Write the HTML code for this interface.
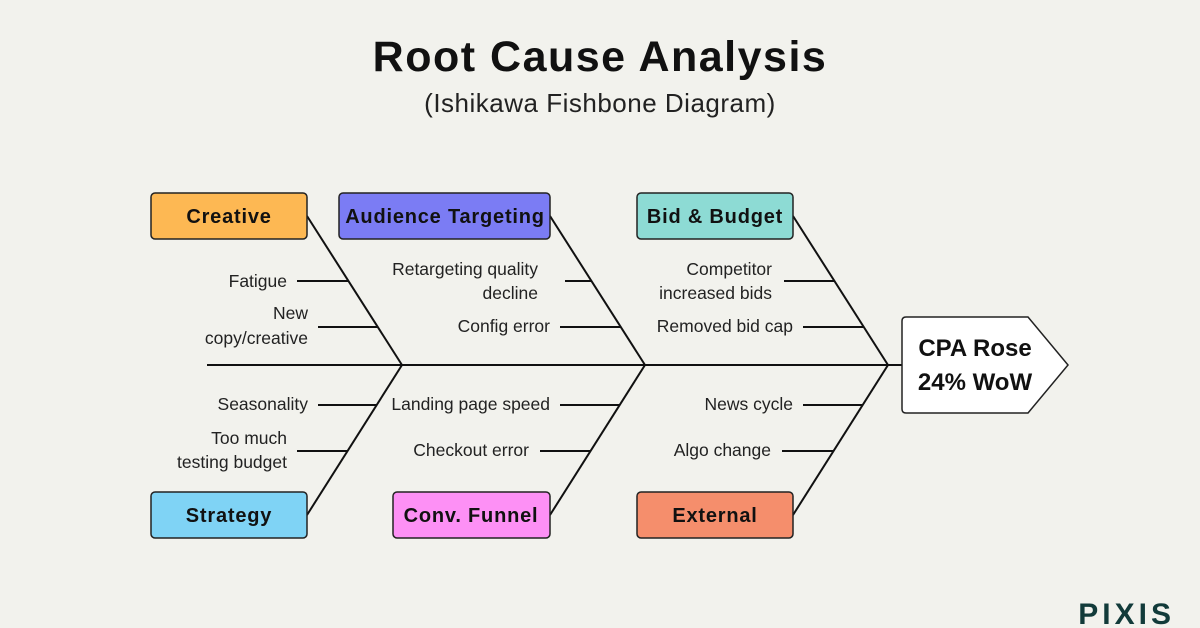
<!DOCTYPE html>
<html><head><meta charset="utf-8"><style>
html,body{margin:0;padding:0;background:#f2f2ed;}
svg{display:block;font-family:"Liberation Sans",sans-serif;}
</style></head><body>
<svg width="1200" height="628" viewBox="0 0 1200 628" xmlns="http://www.w3.org/2000/svg">
<rect width="1200" height="628" fill="#f2f2ed"/>
<text x="600" y="71" text-anchor="middle" font-size="43" font-weight="bold" fill="#111" letter-spacing="1.5">Root Cause Analysis</text>
<text x="600" y="112" text-anchor="middle" font-size="26" fill="#222" letter-spacing="0.5">(Ishikawa Fishbone Diagram)</text>
<g stroke="#111" stroke-width="2" fill="none">
<line x1="207" y1="365" x2="902" y2="365"/>
<line x1="307" y1="216" x2="402" y2="365"/><line x1="307" y1="515" x2="402" y2="365"/>
<line x1="550" y1="216" x2="645" y2="365"/><line x1="550" y1="515" x2="645" y2="365"/>
<line x1="793" y1="216" x2="888" y2="365"/><line x1="793" y1="515" x2="888" y2="365"/>
<line x1="297" y1="281" x2="349" y2="281"/><line x1="318" y1="327" x2="378" y2="327"/>
<line x1="318" y1="405" x2="377" y2="405"/><line x1="297" y1="451" x2="348" y2="451"/>
<line x1="565" y1="281" x2="591" y2="281"/><line x1="560" y1="327" x2="621" y2="327"/>
<line x1="560" y1="405" x2="620" y2="405"/><line x1="540" y1="451" x2="591" y2="451"/>
<line x1="784" y1="281" x2="834" y2="281"/><line x1="803" y1="327" x2="864" y2="327"/>
<line x1="803" y1="405" x2="863" y2="405"/><line x1="782" y1="451" x2="834" y2="451"/>
</g>
<g stroke="#222" stroke-width="1.5">
<rect x="151" y="193" width="156" height="46" rx="4" fill="#fdb853"/>
<rect x="339" y="193" width="211" height="46" rx="4" fill="#7b7cf4"/>
<rect x="637" y="193" width="156" height="46" rx="4" fill="#8ddbd4"/>
<rect x="151" y="492" width="156" height="46" rx="4" fill="#7fd3f5"/>
<rect x="393" y="492" width="157" height="46" rx="4" fill="#fd90f5"/>
<rect x="637" y="492" width="156" height="46" rx="4" fill="#f58e6c"/>
<path d="M906 317 H1028 L1068 365 L1028 413 H906 Q902 413 902 409 V321 Q902 317 906 317 Z" fill="#fff"/>
</g>
<g font-size="20" font-weight="bold" fill="#111" text-anchor="middle" letter-spacing="0.8">
<text x="229" y="223">Creative</text>
<text x="445" y="223">Audience Targeting</text>
<text x="715" y="223">Bid &amp; Budget</text>
<text x="229" y="522">Strategy</text>
<text x="471" y="522">Conv. Funnel</text>
<text x="715" y="522">External</text>
<text x="975" y="356" font-size="24" letter-spacing="0">CPA Rose</text>
<text x="975" y="390" font-size="24" letter-spacing="0">24% WoW</text>
</g>
<g font-size="17.5" fill="#222" text-anchor="end">
<text x="287" y="287">Fatigue</text>
<text x="308" y="319">New</text><text x="308" y="344">copy/creative</text>
<text x="308" y="410">Seasonality</text>
<text x="287" y="444">Too much</text><text x="287" y="468">testing budget</text>
<text x="538" y="275">Retargeting quality</text><text x="538" y="299">decline</text>
<text x="550" y="332">Config error</text>
<text x="550" y="410">Landing page speed</text>
<text x="529" y="456">Checkout error</text>
<text x="772" y="275">Competitor</text><text x="772" y="299">increased bids</text>
<text x="793" y="332">Removed bid cap</text>
<text x="793" y="410">News cycle</text>
<text x="771" y="456">Algo change</text>
</g>
<text x="1175" y="624" text-anchor="end" font-size="30" font-weight="bold" fill="#123b3a" letter-spacing="4">PIXIS</text>
</svg>
</body></html>
